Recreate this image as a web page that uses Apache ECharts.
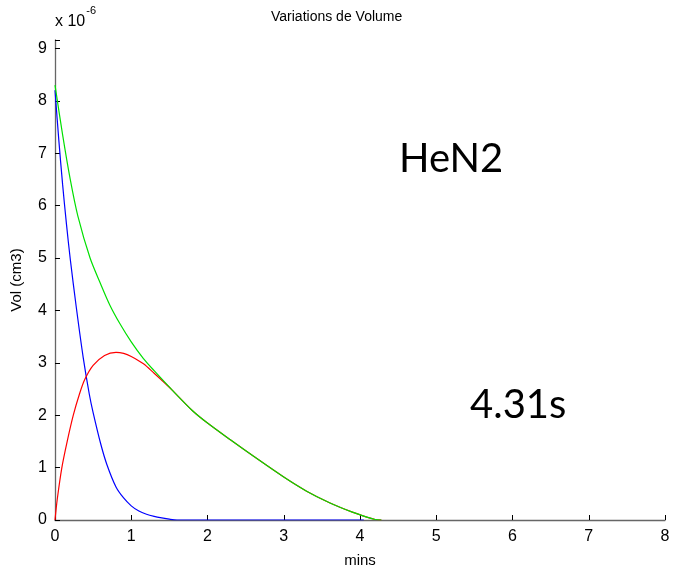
<!DOCTYPE html>
<html><head><meta charset="utf-8">
<script src="https://cdn.jsdelivr.net/npm/echarts@6/dist/echarts.min.js"></script>
<style>html,body{margin:0;padding:0;background:#fff}#c{width:673px;height:570px}</style>
</head><body><div id="c"></div>
<script>
// time (mins) and volume (x 1e-6 cm3)
const blueT = [0, 0.05, 0.1, 0.15, 0.2, 0.28, 0.37, 0.45, 0.5, 0.6, 0.68, 0.8, 0.9, 1.0, 1.1, 1.2, 1.3, 1.4, 1.5, 1.6, 2, 3, 4.05];
const blueV = [8.2, 7.25, 6.4, 5.65, 4.98, 4.05, 3.1, 2.4, 2.05, 1.45, 1.06, 0.63, 0.42, 0.27, 0.17, 0.11, 0.07, 0.04, 0.015, 0, 0, 0, 0];
const redT = [0, 0.03, 0.09, 0.16, 0.24, 0.32, 0.39, 0.5, 0.65, 0.8, 0.9, 1.0, 1.16, 1.3, 1.45, 1.55, 1.8, 2.0, 2.3, 2.6, 3.0, 3.3, 3.6, 3.9, 4.1, 4.2, 4.28];
const redV = [0, 0.4, 1.0, 1.5, 2.0, 2.4, 2.68, 2.95, 3.14, 3.2, 3.18, 3.12, 2.98, 2.8, 2.6, 2.46, 2.09, 1.85, 1.53, 1.22, 0.82, 0.55, 0.33, 0.15, 0.05, 0.01, 0];
const greenT = [0, 0.1, 0.2, 0.3, 0.46, 0.6, 0.72, 0.85, 1.0, 1.16, 1.3, 1.55, 1.8, 2.0, 2.3, 2.6, 3.0, 3.3, 3.6, 3.9, 4.1, 4.2, 4.28];
const greenV = [8.3, 7.35, 6.5, 5.8, 5.0, 4.5, 4.1, 3.75, 3.4, 3.08, 2.85, 2.46, 2.09, 1.85, 1.53, 1.22, 0.82, 0.55, 0.33, 0.15, 0.05, 0.01, 0];
const xTicks = [0, 1, 2, 3, 4, 5, 6, 7, 8];
const yTicks = [0, 1, 2, 3, 4, 5, 6, 7, 8, 9];
const titleText = 'Variations de Volume';
const xName = 'mins';
const yName = 'Vol (cm3)';
const note1 = 'HeN2';
const note2 = '4.31s';

const pair = (t, v) => t.map((x, i) => [x, v[i]]);
const chart = echarts.init(document.getElementById('c'), null, {renderer: 'canvas'});
const FF = 'Liberation Sans, Arial, sans-serif';
const axisFont = {fontFamily: FF, color: '#000'};
const lineSeries = (t, v, color, z) => ({
  type: 'line', data: pair(t, v), showSymbol: false, symbol: 'none',
  smooth: 0.3,
  lineStyle: {color: color, width: 1.2}, itemStyle: {color: color}, z: z
});
chart.setOption({
  animation: false,
  backgroundColor: '#fff',
  grid: {left: 55, right: 8, top: 40, bottom: 50, containLabel: false, outerBoundsMode: 'none'},
  xAxis: {
    type: 'value', min: 0, max: 8, interval: 1,
    name: xName, nameLocation: 'middle', nameGap: 33,
    nameTextStyle: Object.assign({fontSize: 15}, axisFont),
    axisLine: {lineStyle: {color: '#666', width: 1.3}},
    axisTick: {inside: true, length: 5, lineStyle: {color: '#000'}},
    axisLabel: Object.assign({fontSize: 16, margin: 9,
      formatter: v => xTicks.includes(v) ? String(v) : ''}, axisFont),
    splitLine: {show: false}
  },
  yAxis: {
    type: 'value', min: 0, max: 9.16,
    interval: 1,
    name: yName, nameLocation: 'middle', nameGap: 31, nameRotate: 90,
    nameTextStyle: Object.assign({fontSize: 15}, axisFont),
    axisLine: {show: true, lineStyle: {color: '#666', width: 1.3}},
    axisTick: {show: true, inside: true, length: 5, lineStyle: {color: '#000'}},
    axisLabel: Object.assign({fontSize: 16, margin: 8,
      formatter: v => yTicks.includes(v) ? String(v) : ''}, axisFont),
    splitLine: {show: false}
  },
  series: [
    lineSeries(blueT, blueV, '#0000ff', 2),
    lineSeries(redT, redV, '#ff0000', 3),
    lineSeries(greenT, greenV, '#00e000', 4)
  ],
  graphic: [
    {type: 'text', left: 271, top: 10, style: {text: titleText, fontSize: 14, fontFamily: FF, fill: '#000'}},
    {type: 'text', left: 55, top: 5, style: {
      text: '{b|x 10}{s|-6}', rich: {
        b: {fontSize: 16, fontFamily: FF, fill: '#000', padding: [9, 0, 0, 0]},
        s: {fontSize: 11, fontFamily: FF, fill: '#000', verticalAlign: 'top', padding: [0, 0, 10, 1]}
      }}},
    {type: 'text', left: 399, top: 139, style: {text: note1, fontSize: 40, fontFamily: 'Lato, sans-serif', fill: '#000'}},
    {type: 'text', left: 470, top: 385, style: {text: note2, fontSize: 40, fontFamily: 'Lato, sans-serif', fill: '#000'}}
  ]
});
</script></body></html>
